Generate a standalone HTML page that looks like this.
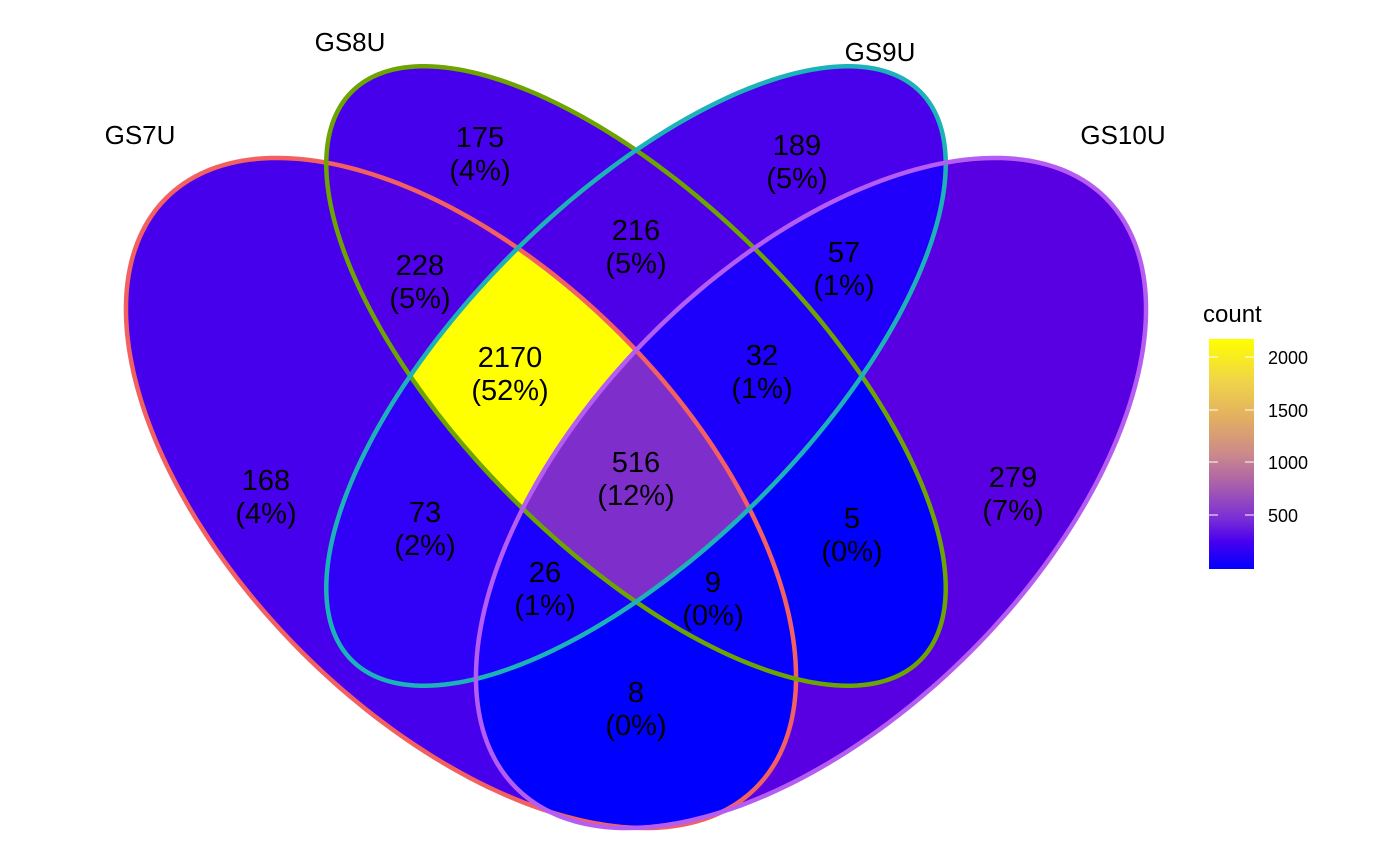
<!DOCTYPE html>
<html><head><meta charset="utf-8"><style>
html,body{margin:0;padding:0;background:#fff;width:1400px;height:865px;overflow:hidden;}
svg{display:block;}
svg text{font-family:"Liberation Sans",Arial,sans-serif;fill:#000;}
</style></head><body>
<svg id="s" width="1400" height="865" viewBox="0 0 1400 865" xmlns="http://www.w3.org/2000/svg">
<defs>
<linearGradient id="lg" x1="0" y1="1" x2="0" y2="0">
<stop offset="0" stop-color="#0000ff"/>
<stop offset="0.12" stop-color="#4a00ee"/>
<stop offset="0.22" stop-color="#7a2ed6"/>
<stop offset="0.35" stop-color="#a45ab0"/>
<stop offset="0.5" stop-color="#cc8a8a"/>
<stop offset="0.65" stop-color="#e2ad62"/>
<stop offset="0.82" stop-color="#f0d548"/>
<stop offset="1" stop-color="#ffff00"/>
</linearGradient>
</defs>
<g id="fills"></g>
<g id="outlines"></g>
<g font-size="26">
<text x="140" y="144" text-anchor="middle">GS7U</text>
<text x="350" y="51" text-anchor="middle">GS8U</text>
<text x="880" y="61" text-anchor="middle">GS9U</text>
<text x="1123" y="144" text-anchor="middle">GS10U</text>
</g>
<g font-size="29" text-anchor="middle" id="labels"></g>
<text x="1203" y="322" font-size="24">count</text>
<rect x="1209" y="339" width="45" height="230" fill="url(#lg)"/>
<g stroke="#fff" stroke-width="1">
<line x1="1209" y1="357" x2="1218" y2="357"/><line x1="1245" y1="357" x2="1254" y2="357"/>
<line x1="1209" y1="410" x2="1218" y2="410"/><line x1="1245" y1="410" x2="1254" y2="410"/>
<line x1="1209" y1="462" x2="1218" y2="462"/><line x1="1245" y1="462" x2="1254" y2="462"/>
<line x1="1209" y1="515" x2="1218" y2="515"/><line x1="1245" y1="515" x2="1254" y2="515"/>
</g>
<g font-size="18">
<text x="1268" y="364">2000</text>
<text x="1268" y="417">1500</text>
<text x="1268" y="469">1000</text>
<text x="1268" y="522">500</text>
</g>
</svg>
<script>
var NS="http://www.w3.org/2000/svg";
var S={A:[461,493,417,225,45],B:[636,376,402,174,45],C:[636,376,402,174,-45],D:[811,493,417,225,-45]};
var stroke={A:"#f26060",B:"#6ea400",C:"#1cb3b8",D:"#b55cf2"};
var col={A:"#4600ec",B:"#4700eb",C:"#4900ea",D:"#5800e2",AB:"#5000e6",AC:"#3100f6",AD:"#0000ff",BC:"#4d00e7",BD:"#0000ff",CD:"#2000fb",ABC:"#ffff00",ABD:"#0800ff",ACD:"#1a00fd",BCD:"#1c00fc",ABCD:"#7e2ecb"};
var svg=document.getElementById("s"),defs=svg.querySelector("defs"),fills=document.getElementById("fills"),outl=document.getElementById("outlines");
function ed(e){var cx=e[0],cy=e[1],a=e[2],b=e[3],t=e[4]*Math.PI/180,c=Math.cos(t),s=Math.sin(t),d="";
for(var i=0;i<240;i++){var th=i/240*2*Math.PI,x=a*Math.cos(th),y=b*Math.sin(th);
d+=(i?"L":"M")+(cx+x*c-y*s).toFixed(2)+","+(cy+x*s+y*c).toFixed(2);}return d+"Z";}
function ell(e){var p=document.createElementNS(NS,"path");p.setAttribute("d",ed(e));return p;}
for(var k in S){var cp=document.createElementNS(NS,"clipPath");cp.setAttribute("id","c"+k);
cp.appendChild(ell(S[k]));defs.appendChild(cp);
var o=ell(S[k]);o.setAttribute("fill","none");o.setAttribute("stroke",stroke[k]);o.setAttribute("stroke-width","4.5");o.setAttribute("stroke-linejoin","round");outl.appendChild(o);}
var order=["A","B","C","D","AB","AC","AD","BC","BD","CD","ABC","ABD","ACD","BCD","ABCD"];
order.forEach(function(key){var parent=fills;
key.split("").forEach(function(ch){var g=document.createElementNS(NS,"g");g.setAttribute("clip-path","url(#c"+ch+")");parent.appendChild(g);parent=g;});
var r=document.createElementNS(NS,"rect");r.setAttribute("x",0);r.setAttribute("y",0);r.setAttribute("width",1400);r.setAttribute("height",865);r.setAttribute("fill",col[key]);parent.appendChild(r);});
var L=[["175","(4%)",480,137],["189","(5%)",797,145],["228","(5%)",420,265],["216","(5%)",636,230],["57","(1%)",844,252],["2170","(52%)",510,357],["32","(1%)",762,355],["168","(4%)",266,480],["516","(12%)",636,462],["279","(7%)",1013,477],["73","(2%)",425,512],["5","(0%)",852,518],["26","(1%)",545,572],["9","(0%)",713,582],["8","(0%)",636,692]];
var lg=document.getElementById("labels");
L.forEach(function(l){[l[0],l[1]].forEach(function(t,i){var e=document.createElementNS(NS,"text");e.setAttribute("x",l[2]);e.setAttribute("y",l[3]+10+i*33);e.textContent=t;lg.appendChild(e);});});
</script>
</body></html>
